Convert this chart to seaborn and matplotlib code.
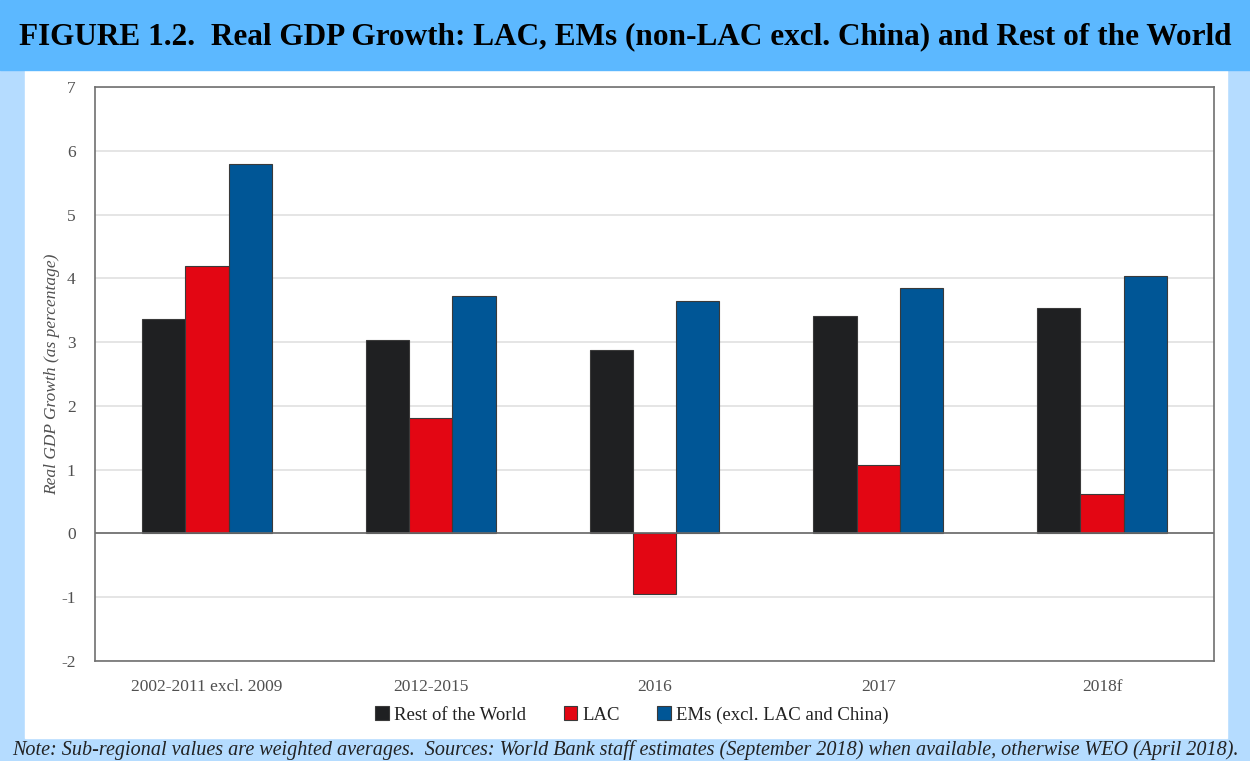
import matplotlib
matplotlib.use("Agg")
import matplotlib.pyplot as plt
import matplotlib.patches as mpatches
import seaborn as sns
import pandas as pd

# data
periods = ["2002-2011 excl. 2009", "2012-2015", "2016", "2017", "2018f"]
rest_of_world = [3.36, 3.03, 2.88, 3.41, 3.54]
lac = [4.19, 1.81, -0.95, 1.07, 0.62]
ems = [5.79, 3.72, 3.64, 3.85, 4.04]
series_names = ["Rest of the World", "LAC", "EMs (excl. LAC and China)"]
colors = ["#1f2022", "#e30613", "#005696"]

df = pd.DataFrame({
    "period": periods * 3,
    "series": [s for s in series_names for _ in periods],
    "growth": rest_of_world + lac + ems,
})

sns.set_style("white")
plt.rcParams["font.family"] = ["Liberation Serif", "DejaVu Serif"]
plt.rcParams["axes.unicode_minus"] = False

fig = plt.figure(figsize=(12.5, 7.61), dpi=100)

# background bands
fig.patches.append(mpatches.Rectangle((0, 0), 1, 1, transform=fig.transFigure,
                                      color="#b5dcff", zorder=-3))
fig.patches.append(mpatches.Rectangle((25 / 1250, 23 / 761), (1227 - 25) / 1250, (691 - 23) / 761,
                                      transform=fig.transFigure, color="white", zorder=-2))
fig.patches.append(mpatches.Rectangle((0, 1 - 70 / 761), 1, 70 / 761, transform=fig.transFigure,
                                      color="#5cb8ff", zorder=-1))

fig.text(0.5, 1 - 37 / 761,
         "FIGURE 1.2.  Real GDP Growth: LAC, EMs (non-LAC excl. China) and Rest of the World",
         ha="center", va="center", fontsize=22.5, fontweight="bold", color="black")
fig.text(0.5, 1 - 750 / 761,
         "Note: Sub-regional values are weighted averages.  Sources: World Bank staff estimates "
         "(September 2018) when available, otherwise WEO (April 2018).",
         ha="center", va="center", fontsize=14.5, style="italic", color="#222222")

ax = fig.add_axes([95 / 1250, 1 - 661 / 761, (1214 - 95) / 1250, (661 - 87) / 761])
sns.barplot(data=df, x="period", y="growth", hue="series", palette=colors,
            width=0.58, edgecolor="#3a3a3a", linewidth=0.8, ax=ax, saturation=1)

ax.set_ylim(-2, 7)
ax.set_yticks(range(-2, 8))
ax.yaxis.grid(True, color="#e0e0e0", linewidth=1.2)
ax.set_axisbelow(True)
ax.axhline(0, color="#6a6a6a", linewidth=1.2, zorder=1)
for sp in ax.spines.values():
    sp.set_color("#707070")
    sp.set_linewidth(1.2)

ax.set_xlabel("")
ax.set_ylabel("Real GDP Growth (as percentage)", fontsize=12.5, style="italic",
              color="#505050")
ax.yaxis.set_label_coords(-0.031, 0.5)
ax.tick_params(axis="both", length=0, labelsize=12.5, colors="#505050", pad=14)
ax.tick_params(axis="x", pad=13)

handles = [mpatches.Patch(facecolor=c, edgecolor="#3a3a3a", linewidth=0.8) for c in colors]
ax.legend(handles, series_names, loc="center", bbox_to_anchor=(0.48, -0.094),
          ncol=3, frameon=False, fontsize=13.5, handlelength=0.7, handleheight=0.7,
          handletextpad=0.3, columnspacing=2.0, labelcolor="#222222")

fig.savefig("out.png", dpi=100)
